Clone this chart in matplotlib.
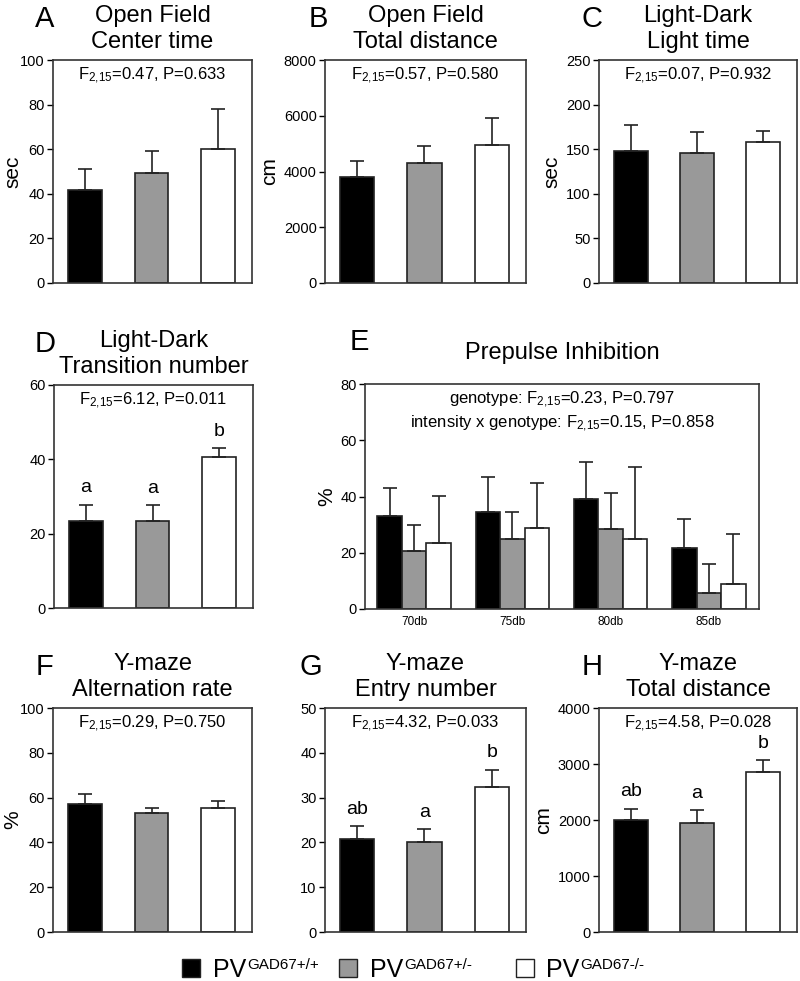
import matplotlib
matplotlib.use('Agg')
import matplotlib.pyplot as plt
import numpy as np
from matplotlib.patches import Rectangle

plt.rcParams['font.family'] = ['Liberation Sans', 'DejaVu Sans']
plt.rcParams['mathtext.default'] = 'regular'

# genotypes
genotypes = ['GAD67+/+', 'GAD67+/-', 'GAD67-/-']
colors = ['black', '#999999', 'white']

# A open field center time (sec)
of_center = [41.6, 49.3, 59.9]
of_center_err = [9.6, 10.0, 18.3]
# B open field total distance (cm)
of_dist = [3820, 4300, 4960]
of_dist_err = [550, 620, 950]
# C light-dark light time (sec)
ld_light = [148.1, 146.3, 158.2]
ld_light_err = [29.1, 23.5, 12.7]
# D light-dark transitions
ld_trans = [23.3, 23.5, 40.5]
ld_trans_err = [4.5, 4.2, 2.5]
ld_trans_grp = ['a', 'a', 'b']
# E prepulse inhibition (%)
ppi_levels = ['70db', '75db', '80db', '85db']
ppi_wt = [33.0, 34.5, 39.1, 21.8]
ppi_wt_err = [9.9, 12.5, 13.1, 10.1]
ppi_het = [20.8, 25.0, 28.3, 5.7]
ppi_het_err = [9.2, 9.4, 12.9, 10.3]
ppi_ko = [23.5, 28.8, 25.0, 9.0]
ppi_ko_err = [16.7, 16.1, 25.6, 17.6]
# F y-maze alternation (%)
ym_alt = [57.1, 53.0, 55.4]
ym_alt_err = [4.4, 2.5, 3.1]
# G y-maze entries
ym_entry = [20.7, 20.1, 32.4]
ym_entry_err = [2.9, 2.8, 3.8]
ym_entry_grp = ['ab', 'a', 'b']
# H y-maze distance (cm)
ym_dist = [1994, 1947, 2866]
ym_dist_err = [208, 225, 208]
ym_dist_grp = ['ab', 'a', 'b']

W, H = 800, 981
fig = plt.figure(figsize=(8, 9.81), dpi=100)


def box(l, t, r, b):
    return [l / W, 1 - b / H, (r - l) / W, (b - t) / H]


def style(ax, ylim, yticks):
    ax.set_ylim(*ylim)
    ax.set_yticks(yticks)
    for s in ax.spines.values():
        s.set_linewidth(1.2)
        s.set_color('#333333')
    ax.tick_params(axis='y', direction='out', length=4, width=1, labelsize=10.5, pad=2)
    ax.tick_params(axis='x', length=0)


def heading(ax, letter, title, lx):
    pos = ax.get_position()
    cx = (pos.x0 + pos.x1) / 2
    ty = pos.y1 + 31 / H
    fig.text(cx, ty, title, ha='center', va='center', fontsize=17, linespacing=1.25)
    fig.text(lx / W, ty + 10 / H, letter, ha='center', va='center', fontsize=21)


def stat_text(f, p):
    return 'F$_{2{,}15}$=' + f + ', P=' + p


def panel(rect, means, errs, ylim, yticks, ylabel, title, letter, lx, stat, grp=None, labx=None):
    ax = fig.add_axes(box(*rect))
    x = np.arange(3)
    ax.bar(x, means, width=0.51, color=colors, edgecolor='#222222', linewidth=1.2,
           yerr=[np.zeros(3), errs], error_kw=dict(ecolor='#222222', elinewidth=1.2, capsize=5, capthick=1.2))
    ax.set_xlim(-0.48, 2.51)
    ax.set_xticks([])
    style(ax, ylim, yticks)
    if ylabel:
        ax.set_ylabel(ylabel, fontsize=15, labelpad=3)
        if labx is not None:
            ax.yaxis.set_label_coords((labx - rect[0]) / (rect[2] - rect[0]), 0.5)
    ax.text(0.5, 1 - 16 / 223, stat, transform=ax.transAxes, ha='center', va='center', fontsize=12)
    if grp:
        for i in range(3):
            ax.annotate(grp[i], (x[i], means[i] + errs[i]), xytext=(0, 6), textcoords='offset points',
                        ha='center', va='bottom', fontsize=14)
    heading(ax, letter, title, lx)
    return ax


panel((53, 60, 252, 283), of_center, of_center_err, (0, 100), range(0, 101, 20), 'sec',
      'Open Field\nCenter time', 'A', 45, stat_text('0.47', '0.633'), labx=22)
panel((325, 60, 526, 283), of_dist, of_dist_err, (0, 8000), range(0, 8001, 2000), 'cm',
      'Open Field\nTotal distance', 'B', 318, stat_text('0.57', '0.580'))
panel((599, 60, 797, 283), ld_light, ld_light_err, (0, 250), range(0, 251, 50), 'sec',
      'Light-Dark\nLight time', 'C', 592, stat_text('0.07', '0.932'))
panel((54, 385, 253, 608), ld_trans, ld_trans_err, (0, 60), range(0, 61, 20), None,
      'Light-Dark\nTransition number', 'D', 45, stat_text('6.12', '0.011'), ld_trans_grp)
panel((53, 708, 252, 932), ym_alt, ym_alt_err, (0, 100), range(0, 101, 20), '%',
      'Y-maze\nAlternation rate', 'F', 44, stat_text('0.29', '0.750'), labx=22)
panel((325, 708, 526, 932), ym_entry, ym_entry_err, (0, 50), range(0, 51, 10), None,
      'Y-maze\nEntry number', 'G', 311, stat_text('4.32', '0.033'), ym_entry_grp)
panel((599, 708, 797, 932), ym_dist, ym_dist_err, (0, 4000), range(0, 4001, 1000), 'cm',
      'Y-maze\nTotal distance', 'H', 592, stat_text('4.58', '0.028'), ym_dist_grp)

# E prepulse inhibition
ax = fig.add_axes(box(365, 384, 759, 609))
g = np.arange(len(ppi_levels))
series = [(ppi_wt, ppi_wt_err), (ppi_het, ppi_het_err), (ppi_ko, ppi_ko_err)]
for i, (m, e) in enumerate(series):
    ax.bar(g + (i - 1) * 0.25, m, width=0.25, color=colors[i], edgecolor='#222222', linewidth=1.2,
           yerr=[np.zeros(len(m)), e], error_kw=dict(ecolor='#222222', elinewidth=1.2, capsize=5, capthick=1.2))
ax.set_xlim(-0.5, 3.51)
ax.set_xticks(g)
ax.set_xticklabels(ppi_levels, fontsize=8.5)
style(ax, (0, 80), range(0, 81, 20))
ax.tick_params(axis='x', pad=5)
ax.set_ylabel('%', fontsize=15, labelpad=3)
ax.text(0.5, 1 - 16 / 225, 'genotype: ' + stat_text('0.23', '0.797'), transform=ax.transAxes,
        ha='center', va='center', fontsize=12)
ax.text(0.5, 1 - 40 / 225, 'intensity x genotype: ' + stat_text('0.15', '0.858'), transform=ax.transAxes,
        ha='center', va='center', fontsize=12)
pos = ax.get_position()
fig.text((pos.x0 + pos.x1) / 2, pos.y1 + 31 / H, 'Prepulse Inhibition', ha='center', va='center', fontsize=17)
fig.text(359 / W, 1 - 342 / H, 'E', ha='center', va='center', fontsize=21)

# legend
sq_x = [182, 339, 516]
txt_x = [213, 370, 546]
fig.canvas.draw()
r = fig.canvas.get_renderer()
for i in range(3):
    fig.add_artist(Rectangle((sq_x[i] / W, 1 - 977 / H), 18 / W, 18 / H, transform=fig.transFigure,
                             facecolor=colors[i], edgecolor='#222222', linewidth=1))
    t = fig.text(txt_x[i] / W, 1 - 977 / H, 'PV', ha='left', va='baseline', fontsize=18)
    bb = t.get_window_extent(renderer=r)
    fig.text(bb.x1 / W + 1 / W, 1 - 969 / H, genotypes[i], ha='left', va='baseline', fontsize=11)

fig.savefig('out.png', dpi=100)
